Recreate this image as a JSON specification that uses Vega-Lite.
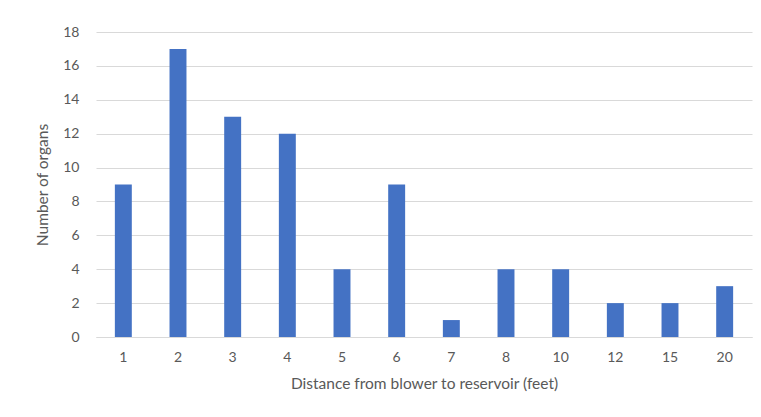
{
  "$schema": "https://vega.github.io/schema/vega-lite/v6.json",
  "width": 656,
  "height": 305,
  "autosize": {"type": "none"},
  "padding": {"left": 96, "top": 32, "right": 9, "bottom": 80},
  "background": "white",
  "config": {"view": {"stroke": null}, "font": "Lato"},
  "data": {"values": [
    {"distance": "1", "organs": 9},
    {"distance": "2", "organs": 17},
    {"distance": "3", "organs": 13},
    {"distance": "4", "organs": 12},
    {"distance": "5", "organs": 4},
    {"distance": "6", "organs": 9},
    {"distance": "7", "organs": 1},
    {"distance": "8", "organs": 4},
    {"distance": "10", "organs": 4},
    {"distance": "12", "organs": 2},
    {"distance": "15", "organs": 2},
    {"distance": "20", "organs": 3}
  ]},
  "mark": {"type": "bar", "color": "#4472c4"},
  "encoding": {
    "x": {
      "field": "distance", "type": "ordinal", "sort": null,
      "scale": {"paddingInner": 0.69, "paddingOuter": 0.345},
      "axis": {
        "title": "Distance from blower to reservoir (feet)",
        "labelAngle": 0, "labelFontSize": 14, "labelColor": "#595959",
        "labelPadding": 13, "ticks": false,
        "domainColor": "#d9d9d9", "domainWidth": 1,
        "titleFontSize": 15.5, "titleFontWeight": "normal", "titleColor": "#595959",
        "titlePadding": 12
      }
    },
    "y": {
      "field": "organs", "type": "quantitative",
      "scale": {"domain": [0, 18]},
      "axis": {
        "title": "Number of organs",
        "values": [0, 2, 4, 6, 8, 10, 12, 14, 16, 18],
        "labelFontSize": 14, "labelColor": "#595959", "labelPadding": 17,
        "ticks": false, "domain": false,
        "gridColor": "#d9d9d9", "gridWidth": 1,
        "titleFontSize": 15.5, "titleFontWeight": "normal", "titleColor": "#595959",
        "titlePadding": 12
      }
    }
  }
}
